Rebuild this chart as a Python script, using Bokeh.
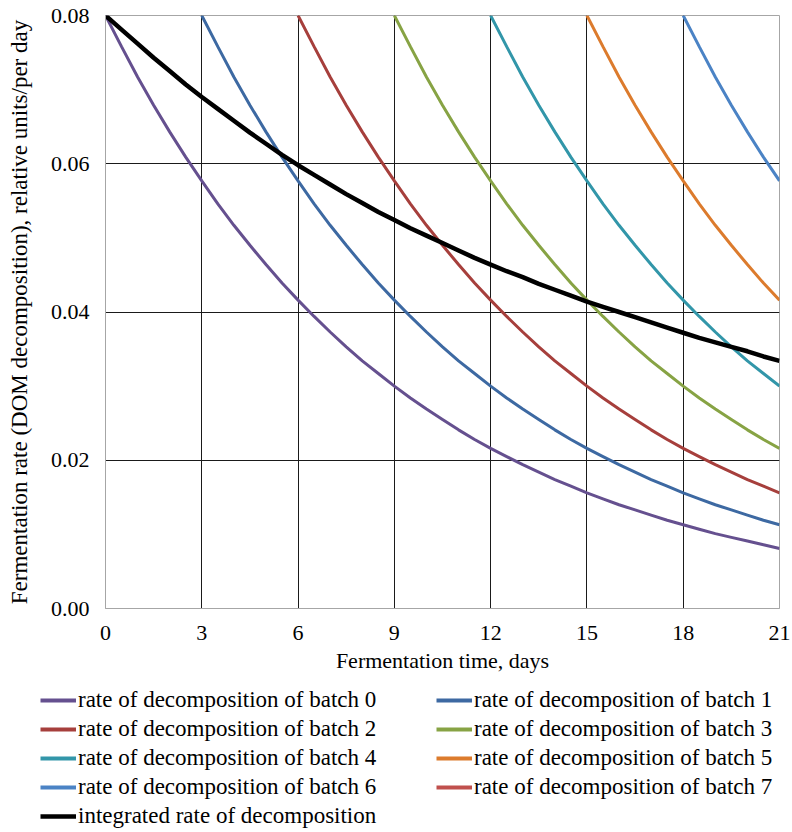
from bokeh.plotting import figure
from bokeh.layouts import column
from bokeh.models import FixedTicker, NumeralTickFormatter, Legend, LegendItem, Range1d
from bokeh.embed import file_html
from bokeh.resources import INLINE

# ---- data (every half day) ----
batch0 = [0.0800, 0.0758, 0.0717, 0.0679, 0.0643, 0.0609, 0.0577, 0.0546, 0.0517, 0.0490, 0.0464,
          0.0439, 0.0416, 0.0394, 0.0373, 0.0353, 0.0334, 0.0317, 0.0300, 0.0284, 0.0269, 0.0255,
          0.0241, 0.0228, 0.0216, 0.0205, 0.0194, 0.0184, 0.0174, 0.0165, 0.0156, 0.0148, 0.0140,
          0.0133, 0.0126, 0.0119, 0.0113, 0.0107, 0.0101, 0.0096, 0.0091, 0.0086, 0.0081]
batch1 = [0.0800, 0.0758, 0.0717, 0.0679, 0.0643, 0.0609, 0.0577, 0.0546, 0.0517, 0.0490, 0.0464,
          0.0439, 0.0416, 0.0394, 0.0373, 0.0353, 0.0334, 0.0317, 0.0300, 0.0284, 0.0269, 0.0255,
          0.0241, 0.0228, 0.0216, 0.0205, 0.0194, 0.0184, 0.0174, 0.0165, 0.0156, 0.0148, 0.0140,
          0.0133, 0.0126, 0.0119, 0.0113]
batch2 = [0.0800, 0.0758, 0.0717, 0.0679, 0.0643, 0.0609, 0.0577, 0.0546, 0.0517, 0.0490, 0.0464,
          0.0439, 0.0416, 0.0394, 0.0373, 0.0353, 0.0334, 0.0317, 0.0300, 0.0284, 0.0269, 0.0255,
          0.0241, 0.0228, 0.0216, 0.0205, 0.0194, 0.0184, 0.0174, 0.0165, 0.0156]
batch3 = [0.0800, 0.0758, 0.0717, 0.0679, 0.0643, 0.0609, 0.0577, 0.0546, 0.0517, 0.0490, 0.0464,
          0.0439, 0.0416, 0.0394, 0.0373, 0.0353, 0.0334, 0.0317, 0.0300, 0.0284, 0.0269, 0.0255,
          0.0241, 0.0228, 0.0216]
batch4 = [0.0800, 0.0758, 0.0717, 0.0679, 0.0643, 0.0609, 0.0577, 0.0546, 0.0517, 0.0490, 0.0464,
          0.0439, 0.0416, 0.0394, 0.0373, 0.0353, 0.0334, 0.0317, 0.0300]
batch5 = [0.0800, 0.0758, 0.0717, 0.0679, 0.0643, 0.0609, 0.0577, 0.0546, 0.0517, 0.0490, 0.0464,
          0.0439, 0.0416]
batch6 = [0.0800, 0.0758, 0.0717, 0.0679, 0.0643, 0.0609, 0.0577]
batch7 = [0.0800]
integrated = [0.0800, 0.0781, 0.0762, 0.0743, 0.0725, 0.0707, 0.0690, 0.0674, 0.0658, 0.0642, 0.0627,
              0.0612, 0.0598, 0.0585, 0.0572, 0.0559, 0.0547, 0.0535, 0.0524, 0.0513, 0.0503, 0.0493,
              0.0483, 0.0473, 0.0464, 0.0455, 0.0447, 0.0438, 0.0430, 0.0422, 0.0414, 0.0407, 0.0400,
              0.0393, 0.0386, 0.0379, 0.0372, 0.0365, 0.0359, 0.0353, 0.0347, 0.0340, 0.0334]
batch_start_day = [0, 3, 6, 9, 12, 15, 18, 21]

x_ticks = [0, 3, 6, 9, 12, 15, 18, 21]
y_ticks = [0.00, 0.02, 0.04, 0.06, 0.08]

labels = ["rate of decomposition of batch %d" % i for i in range(8)]
colors = ["#65508f", "#3d69a2", "#a63f3c", "#87a344", "#3296a9", "#dc7b2d", "#4b83c5", "#c0504d"]
batches = [batch0, batch1, batch2, batch3, batch4, batch5, batch6, batch7]

FONT = "Liberation Serif"

p = figure(width=792, height=678, output_backend="svg", toolbar_location=None,
           x_range=Range1d(0, 21), y_range=Range1d(0, 0.08),
           min_border_left=105, min_border_right=13, min_border_top=15, min_border_bottom=70)
p.outline_line_color = "#a6a6a6"

p.xgrid.ticker = FixedTicker(ticks=x_ticks)
p.ygrid.ticker = FixedTicker(ticks=y_ticks)
for g in (p.xgrid, p.ygrid):
    g.grid_line_color = "#1a1a1a"
    g.grid_line_width = 1

p.xaxis.ticker = FixedTicker(ticks=x_ticks)
p.yaxis.ticker = FixedTicker(ticks=y_ticks)
p.yaxis.formatter = NumeralTickFormatter(format="0.00")
for ax in (p.xaxis, p.yaxis):
    ax.axis_line_color = "#a6a6a6"
    ax.major_tick_line_color = None
    ax.minor_tick_line_color = None
    ax.major_label_text_font = FONT
    ax.major_label_text_font_size = "22px"
    ax.major_label_text_color = "#000000"
    ax.axis_label_text_font = FONT
    ax.axis_label_text_font_style = "normal"
    ax.axis_label_text_color = "#000000"
p.xaxis.axis_label_text_font_size = "22px"
p.yaxis.axis_label_text_font_size = "23px"
p.xaxis.axis_label = "Fermentation time, days"
p.yaxis.axis_label = "Fermentation rate (DOM decomposition), relative units/per day"
p.xaxis.major_label_standoff = 11
p.yaxis.major_label_standoff = 10
p.xaxis.axis_label_standoff = 5
p.yaxis.axis_label_standoff = 16

for start, ys, col in zip(batch_start_day, batches, colors):
    xs = [start + 0.5 * i for i in range(len(ys))]
    p.line(xs, ys, line_color=col, line_width=3)
p.line([0.5 * i for i in range(len(integrated))], integrated, line_color="#000000", line_width=4.5)

# ---- legend panel below ----
q = figure(width=792, height=154, output_backend="svg", toolbar_location=None,
           x_range=Range1d(0, 1), y_range=Range1d(0, 1),
           x_axis_location=None, y_axis_location=None,
           min_border_left=0, min_border_right=0, min_border_top=0, min_border_bottom=0)
q.grid.visible = False
q.outline_line_color = None
q.frame_align = False
p.frame_align = False

lr = [q.line([-1], [-1], line_color=col, line_width=4) for col in colors]
lr_int = q.line([-1], [-1], line_color="#000000", line_width=4.5)

left = [(labels[0], lr[0]), (labels[2], lr[2]), (labels[4], lr[4]), (labels[6], lr[6]),
        ("integrated rate of decomposition", lr_int)]
right = [(labels[1], lr[1]), (labels[3], lr[3]), (labels[5], lr[5]), (labels[7], lr[7])]


def make_legend(items, loc):
    lg = Legend(items=[LegendItem(label=n, renderers=[r]) for n, r in items], location=loc)
    lg.border_line_color = None
    lg.background_fill_alpha = 0
    lg.padding = 0
    lg.margin = 0
    lg.spacing = 3
    lg.glyph_width = 36
    lg.glyph_height = 20
    lg.label_height = 20
    lg.label_standoff = 2
    lg.label_text_font = FONT
    lg.label_text_font_size = "23px"
    lg.label_text_color = "#000000"
    return lg


q.add_layout(make_legend(left, (40, 3)), "center")
q.add_layout(make_legend(right, (436, 32)), "center")

layout = column(p, q, spacing=0)
open("out.html", "w").write(file_html(layout, INLINE))
